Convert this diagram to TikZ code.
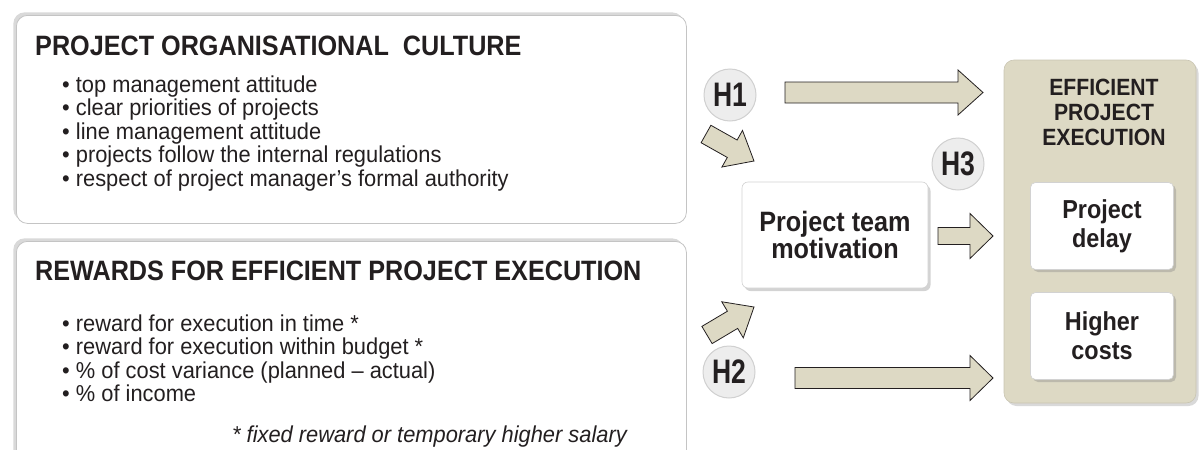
\documentclass[tikz,border=0pt]{standalone}
\usepackage{fontspec}
\setmainfont{Liberation Sans}
\newfontfamily\bnar[FakeStretch=0.9]{Liberation Sans}
\newfontfamily\rnar[FakeStretch=0.95]{Liberation Sans}
\newfontfamily\hnar[FakeStretch=0.78]{Liberation Sans}
\usetikzlibrary{calc,shadows}
\definecolor{ink}{HTML}{231F20}
\definecolor{beige}{HTML}{DDD9C4}
\definecolor{beigeline}{HTML}{C9C5B2}
\definecolor{circfill}{HTML}{EDEDED}
\definecolor{circline}{HTML}{D0D0D0}
\definecolor{boxline}{HTML}{C4C4C4}
\tikzset{
  leftbox/.style={draw=boxline, line width=0.8pt, fill=white, rounded corners=11pt,
    drop shadow={shadow xshift=-3pt, shadow yshift=3pt, opacity=0.3},
    anchor=north west, inner sep=0pt},
  titletext/.style={font=\bnar\bfseries\fontsize{28}{30}\selectfont, text=ink, inner sep=0pt, anchor=base west},
  bodytext/.style={font=\rnar\fontsize{23}{25}\selectfont, text=ink, inner sep=0pt, anchor=base west},
  notetext/.style={font=\rnar\itshape\fontsize{23}{25}\selectfont, text=ink, inner sep=0pt, anchor=base east},
  execbox/.style={fill=beige, draw=beigeline, line width=0.6pt, rounded corners=10pt,
    drop shadow={shadow xshift=2.5pt, shadow yshift=-3pt, opacity=0.3}, inner sep=0pt},
  exectitle/.style={font=\bnar\bfseries\fontsize{23.5}{25}\selectfont, text=ink, align=center, inner sep=0pt},
  innerbox/.style={fill=white, draw=gray!35, line width=0.6pt, rounded corners=5pt,
    drop shadow={shadow xshift=2.5pt, shadow yshift=-2.5pt, opacity=0.35},
    minimum width=143pt, minimum height=87pt, align=center, inner sep=0pt,
    font=\bnar\bfseries\fontsize{26}{29}\selectfont, text=ink},
  motbox/.style={fill=white, draw=gray!35, line width=0.6pt, rounded corners=6pt,
    drop shadow={shadow xshift=2.5pt, shadow yshift=-3pt, opacity=0.35},
    minimum width=186pt, minimum height=106pt, align=center, inner sep=0pt,
    font=\bnar\bfseries\fontsize{28}{27}\selectfont, text=ink},
  hcirc/.style={circle, fill=circfill, draw=circline, line width=1pt, minimum size=52pt, inner sep=0pt,
    font=\hnar\bfseries\fontsize{34}{34}\selectfont, text=ink},
  fatstyle/.style={fill=beige, draw=ink, line width=0.8pt, line join=miter}
}
\newcommand\fatarrow[5]{%
  \draw[fatstyle] let \p1=($(#2)-(#1)$), \n1={atan2(\y1,\x1)}, \n2={veclen(\x1,\y1)-#5} in
    ($(#1)+(\n1+90:#3)$) -- ($(#1)+(\n1:\n2)+(\n1+90:#3)$) -- ($(#1)+(\n1:\n2)+(\n1+90:#4)$) -- (#2)
    -- ($(#1)+(\n1:\n2)+(\n1-90:#4)$) -- ($(#1)+(\n1:\n2)+(\n1-90:#3)$) -- ($(#1)+(\n1-90:#3)$) -- cycle;}
\begin{document}
\begin{tikzpicture}[x=1pt,y=-1pt]
\useasboundingbox (0,0) rectangle (1200,450);
\clip (0,0) rectangle (1200,450);
% left boxes
\node[leftbox, minimum width=670pt, minimum height=208pt] (culture) at (16,15) {};
\node[leftbox, minimum width=670pt, minimum height=230pt] (rewards) at (16,241) {};
\node[titletext] (t1) at (35,55) {PROJECT ORGANISATIONAL\ \ CULTURE};
\node[bodytext] (c1) at (62,92) {• top management attitude};
\node[bodytext] (c2) at (62,115.5) {• clear priorities of projects};
\node[bodytext] (c3) at (62,139) {• line management attitude};
\node[bodytext] (c4) at (62,162.5) {• projects follow the internal regulations};
\node[bodytext] (c5) at (62,186) {• respect of project manager’s formal authority};
\node[titletext] (t2) at (35,280) {REWARDS FOR EFFICIENT PROJECT EXECUTION};
\node[bodytext] (r1) at (62,331) {• reward for execution in time *};
\node[bodytext] (r2) at (62,354.5) {• reward for execution within budget *};
\node[bodytext] (r3) at (62,378) {• \% of cost variance (planned – actual)};
\node[bodytext] (r4) at (62,401.5) {• \% of income};
\node[notetext] (fn) at (627,442) {* fixed reward or temporary higher salary};
% right block
\node[execbox, minimum width=192pt, minimum height=343pt] (exec) at (1100,231.5) {};
\node[exectitle] (et) at (1104,112) {EFFICIENT\\PROJECT\\EXECUTION};
\node[innerbox] (delay) at (1102,226) {Project\\delay};
\node[innerbox] (costs) at (1102,336) {Higher\\costs};
\node[motbox] (mot) at (835,235) {Project team\\motivation};
\node[hcirc] (H1) at (730,95) {H1};
\node[hcirc] (H2) at (729,372) {H2};
\node[hcirc] (H3) at (958,164) {H3};
% fat arrows
\coordinate (a1s) at (785,92.5); \coordinate (a1e) at (983,92.5);
\coordinate (a2s) at (706,134);  \coordinate (a2e) at (754,161);
\coordinate (a3s) at (707,335);  \coordinate (a3e) at (754,307);
\coordinate (a4s) at (938,236);  \coordinate (a4e) at (993,236);
\coordinate (a5s) at (795,378);  \coordinate (a5e) at (993,378);
\fatarrow{a1s}{a1e}{10.5pt}{22.5pt}{25pt}
\fatarrow{a2s}{a2e}{10pt}{21pt}{25pt}
\fatarrow{a3s}{a3e}{10pt}{21pt}{25pt}
\fatarrow{a4s}{a4e}{8.5pt}{22.5pt}{23pt}
\fatarrow{a5s}{a5e}{10.5pt}{22.5pt}{23pt}
\end{tikzpicture}
\end{document}
